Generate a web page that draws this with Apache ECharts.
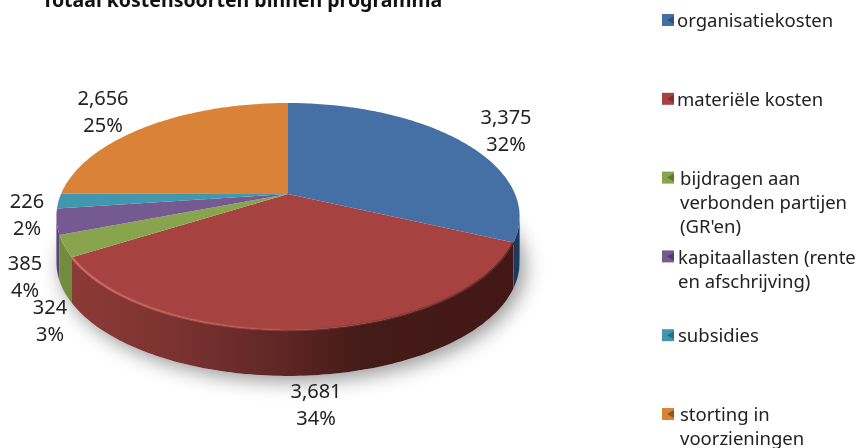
<!DOCTYPE html>
<html>
<head>
<meta charset="utf-8">
<style>html,body{margin:0;padding:0;background:#fff}#main{width:857px;height:448px;filter:blur(0.4px)}</style>
<script src="https://cdn.jsdelivr.net/npm/echarts@6/dist/echarts.min.js"></script>
</head>
<body>
<div id="main"></div>
<script>
var categories = ['organisatiekosten', 'materiële kosten', "bijdragen aan\nverbonden partijen\n(GR'en)", 'kapitaallasten (rente\nen afschrijving)', 'subsidies', 'storting in\nvoorzieningen'];
var values = [3375, 3681, 324, 385, 226, 2656];
var valueLabels = ['3,375', '3,681', '324', '385', '226', '2,656'];
var percentLabels = ['32%', '34%', '3%', '4%', '2%', '25%'];

var topColors = ['#4470a6', '#a64340', '#88a44c', '#745a91', '#4097ae', '#d98238'];
var sideColors = ['#1b3a5e', null, '#718c3e', '#5b4578', '#2f7286', '#a8652c'];
var iconDark = ['#2c5382', '#7d2f2d', '#5f7a2c', '#523a70', '#27707f', '#8f5420'];
var labelPos = [[506, 132], [316, 406], [50, 322], [25, 278], [27, 216], [103, 113]];
var legendTextX = [677, 677, 680, 678, 678, 680];

// projected disc: apex of the slices, radius, squash and perspective
var cx = 288, cy = 194, rx = 227, ry = 109, persp = 0.198, depth = 46;
var total = values.reduce(function (a, b) { return a + b; }, 0);
var font = '"Noto Sans", sans-serif';

function pt(deg) {
    var t = deg * Math.PI / 180;
    var X = Math.sin(t), Y = -Math.cos(t), w = 1 - persp * Y;
    return [cx + rx * X / w, cy + ry * Y / w];
}
function arc(a0, a1) {
    var out = [], n = Math.max(2, Math.ceil(Math.abs(a1 - a0)));
    for (var i = 0; i <= n; i++) out.push(pt(a0 + (a1 - a0) * i / n));
    return out;
}
// part of the rim that faces the viewer
var frontA = Math.acos(-persp) * 180 / Math.PI, frontB = 360 - frontA;

var redSide = new echarts.graphic.LinearGradient(60, 0, 520, 0, [
    { offset: 0, color: '#8e3b37' },
    { offset: 0.26, color: '#7a3230' },
    { offset: 0.5, color: '#5c2523' },
    { offset: 0.65, color: '#451b19' },
    { offset: 1, color: '#421715' }
], true);

var starts = [], acc = 0;
values.forEach(function (v) { starts.push(acc / total * 360); acc += v; });

function renderSlice(params, api) {
    var i = params.dataIndex;
    var a0 = starts[i], a1 = a0 + api.value(0) / total * 360;
    var children = [];
    var rim = arc(a0, a1);
    children.push({
        type: 'polygon', z2: 3,
        shape: { points: [[cx, cy]].concat(rim) },
        style: { fill: topColors[i] }
    });
    var s0 = Math.max(a0, frontA), s1 = Math.min(a1, frontB);
    if (s1 > s0) {
        var upper = arc(s0, s1);
        var lower = upper.slice().reverse().map(function (p) { return [p[0], p[1] + depth]; });
        children.push({
            type: 'polygon', z2: 1,
            shape: { points: upper.concat(lower) },
            style: { fill: sideColors[i] || redSide }
        });
        if (i === 1) {
            // light bevel along the front edge
            children.push({
                type: 'polyline', z2: 4,
                shape: { points: upper },
                style: {
                    fill: 'none', lineWidth: 2.5,
                    stroke: new echarts.graphic.LinearGradient(70, 0, 510, 0, [
                        { offset: 0, color: 'rgba(214,112,105,0.8)' },
                        { offset: 0.4, color: 'rgba(190,92,88,0.55)' },
                        { offset: 0.65, color: 'rgba(130,55,52,0.5)' },
                        { offset: 1, color: 'rgba(70,25,23,0.7)' }
                    ], true)
                }
            });
        }
    }
    children.push({
        type: 'text', z2: 5,
        style: {
            x: labelPos[i][0], y: labelPos[i][1],
            text: valueLabels[i] + '\n' + percentLabels[i],
            font: '20px ' + font, lineHeight: 27, fill: '#222',
            align: 'center', verticalAlign: 'middle'
        }
    });
    return { type: 'group', children: children };
}

function renderShadow() {
    var ring = arc(0, 360).map(function (p) { return [p[0], p[1] + depth]; });
    return {
        type: 'polygon',
        shape: { points: ring },
        style: { fill: '#fff', shadowBlur: 20, shadowColor: 'rgba(0,0,0,0.42)', shadowOffsetX: 5, shadowOffsetY: 5 }
    };
}

// legend rows, icon next to the first line
var legendEls = [];
categories.forEach(function (name, i) {
    var y = 20 + i * 78.8, lines = name.split('\n');
    legendEls.push({ type: 'rect', shape: { x: 662, y: y - 6, width: 12, height: 12 }, style: { fill: topColors[i] } });
    legendEls.push({ type: 'polygon', shape: { points: [[674, y - 4], [667, y], [674, y + 4]] }, style: { fill: iconDark[i] } });
    lines.forEach(function (line, k) {
        legendEls.push({
            type: 'text',
            style: {
                x: legendTextX[i], y: y + 2 + k * 24,
                text: line, font: '18.5px ' + font, fill: '#222', verticalAlign: 'middle'
            }
        });
    });
});

var chart = echarts.init(document.getElementById('main'));
chart.setOption({
    animation: false,
    backgroundColor: '#fff',
    title: {
        text: 'Totaal kostensoorten binnen programma',
        left: 42, top: -9, padding: 0,
        textStyle: { fontFamily: 'Noto Sans', fontSize: 19.5, fontWeight: 'bold', color: '#111' }
    },
    graphic: legendEls,
    series: [
        { type: 'custom', coordinateSystem: 'none', silent: true, z: 1, data: [0], renderItem: renderShadow },
        { type: 'custom', coordinateSystem: 'none', z: 2, data: values, renderItem: renderSlice }
    ]
});
</script>
</body>
</html>
